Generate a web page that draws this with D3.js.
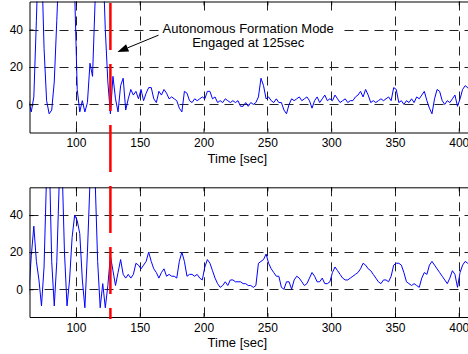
<!DOCTYPE html>
<html>
<head>
<meta charset="utf-8">
<script src="https://cdn.jsdelivr.net/npm/d3@7"></script>
<style>
body { margin: 0; background: #fff; }
text { font-family: "Liberation Sans", Arial, Helvetica, sans-serif; }
</style>
</head>
<body>
<div id="the_chart"></div>
<script>
// samples every 2 sec starting at 63 sec
var startTime = 63, timeStep = 2;

var topValues = [
    2, -4, 4, 45, 90, 80, 30, 2, -5, -3,
    12, 45, 80, 100, 110, 105, 100, 90, 60, 8,
    -4, 2, -4, 1, 22, 15, 55, 90, 100, 80,
    40, 12, -5, 15, 3, -4, 10, 14, -3, 3,
    8, 5, 7, 3, 8, 2, 6, 9, 9, 3,
    1, 7, 5, 8, 6, 3, 4, 3, 2, -2,
    -4, 7, 6, 2, 1, 3, 2, 3, 4, 3,
    7, 7, 3, 4, 1, 2, 1, 3, 2, 1,
    2, 1, 2, -1, -1, 1, -1, 1, 0, 1,
    4, 14, 10, 3, 4, 2, 1, 3, 1, 1,
    -3, -5, 0, 3, 2, 3, 4, 2, 3, 4,
    2, -2, 2, 4, 1, 3, 5, 2, 3, 2,
    5, 3, 1, 2, 3, 1, 2, 2, 4, 5,
    7, 4, 8, 5, 1, 2, 1, 2, 3, 2,
    3, 4, 2, 9, 8, 1, 2, 0, 2, 1,
    3, 1, 4, 3, 5, 7, 2, -2, -5, 3,
    8, 7, 2, 0, 2, 1, 3, 5, -1, 3,
    8, 10, 9, 7, 6
];

var bottomValues = [
    -3, 18, 34, 15, 5, -9, 12, 62, 75, 15,
    -9, 15, 60, 70, 20, -9, 5, 28, 40, 37,
    30, 5, -10, 20, 58, 70, 60, 15, -10, 3,
    -10, 2, 18, 10, 2, 9, 16, 8, 6, 8,
    6, 8, 14, 13, 11, 13, 15, 20, 15, 11,
    9, 6, 9, 11, 7, 8, 7, 7, 6, 15,
    20, 15, 7, 8, 8, 7, 8, 6, 5, 12,
    16, 14, 10, 6, 3, 1, 2, 4, 2, 5,
    5, 4, 4, 4, 3, 3, 2, 2, 1, 2,
    14, 15, 16, 19, 14, 11, 9, 7, 7, 1,
    0, 4, 4, 0, 5, 7, 6, 4, 2, 3,
    6, 9, 7, 4, 4, 6, 3, 3, 4, 9,
    12, 10, 8, 6, 5, 5, 6, 7, 8, 9,
    11, 14, 13, 11, 10, 8, 6, 4, 3, 5,
    5, 4, 7, 13, 14, 14, 13, 9, 4, 3,
    2, 3, 2, 1, 6, 9, 8, 13, 15, 13,
    11, 9, 7, 5, 3, 6, 10, 8, 1, 9,
    13, 15, 14, 13, 12
];

var xTicks = [100, 150, 200, 250, 300, 350, 400];
var yTicks = [0, 20, 40];
var xLabel = "Time [sec]";
var engageTime = 127;
var noteLines = ["Autonomous Formation Mode", "Engaged at 125sec"];

var w = 468, h = 354;

var svg = d3.select("#the_chart").append("svg")
    .attr("width", w)
    .attr("height", h);

var xscale = d3.scaleLinear()
    .domain([63.6, 420])
    .range([29.5, 484.3]);

function panel(values, yTop, yBottom, name) {
    var yscale = d3.scaleLinear()
        .domain([-15, 55])
        .range([yBottom, yTop]);

    var g = svg.append("g");

    g.append("clipPath").attr("id", "clip_" + name)
        .append("rect")
        .attr("x", xscale.range()[0])
        .attr("y", yTop)
        .attr("width", xscale.range()[1] - xscale.range()[0])
        .attr("height", yBottom - yTop);

    // dashed grid
    g.selectAll(".vgrid").data(xTicks).enter().append("line")
        .attr("x1", function (d) { return Math.round(xscale(d)) + 0.5; })
        .attr("x2", function (d) { return Math.round(xscale(d)) + 0.5; })
        .attr("y1", yTop).attr("y2", yBottom)
        .attr("stroke", "#222").attr("stroke-dasharray", "9,6");

    g.selectAll(".hgrid").data(yTicks).enter().append("line")
        .attr("x1", xscale.range()[0]).attr("x2", xscale.range()[1])
        .attr("y1", function (d) { return Math.round(yscale(d)) + 0.5; })
        .attr("y2", function (d) { return Math.round(yscale(d)) + 0.5; })
        .attr("stroke", "#222").attr("stroke-dasharray", "9,6");

    var line = d3.line()
        .x(function (d, i) { return xscale(startTime + i * timeStep); })
        .y(function (d) { return yscale(d); });

    g.append("path")
        .datum(values)
        .attr("clip-path", "url(#clip_" + name + ")")
        .attr("d", line)
        .attr("fill", "none")
        .attr("stroke", "#0000ff")
        .attr("stroke-width", 1);

    var xaxis = d3.axisBottom(xscale)
        .tickValues(xTicks).tickSize(-4).tickSizeOuter(0).tickPadding(6);
    var topaxis = d3.axisTop(xscale)
        .tickValues(xTicks).tickSize(-4).tickSizeOuter(0).tickFormat("");
    var yaxis = d3.axisLeft(yscale)
        .tickValues(yTicks).tickSize(-4).tickSizeOuter(0).tickPadding(6.5);

    g.append("g").attr("transform", "translate(0," + yBottom + ")").call(xaxis);
    g.append("g").attr("transform", "translate(0," + yTop + ")").call(topaxis);
    g.append("g").attr("transform", "translate(" + xscale.range()[0] + ",0)").call(yaxis);

    g.selectAll(".domain").attr("stroke", "#000");
    g.selectAll(".tick line").attr("stroke", "#000");
    g.selectAll(".tick text").style("font-size", "12px").attr("fill", "#000")
        .style("font-family", "'Liberation Sans', Arial, sans-serif");

    g.append("text")
        .attr("x", xscale(250) - 30)
        .attr("y", yBottom + 30)
        .attr("text-anchor", "middle")
        .style("font-size", "13px")
        .text(xLabel);

    return yscale;
}

var yTopScale = panel(topValues, 1.5, 132.5, "a");
var yBotScale = panel(bottomValues, 187.3, 317, "b");

// engage marker, one long dashed red line across both panels
svg.append("line")
    .attr("x1", xscale(engageTime)).attr("x2", xscale(engageTime))
    .attr("y1", 0).attr("y2", yBotScale(-15) + 2)
    .attr("stroke", "#ff0000")
    .attr("stroke-width", 2.5)
    .attr("stroke-dasharray", "47,14")
    .attr("stroke-dashoffset", 58);

// annotation with arrow
svg.append("rect")
    .attr("x", xscale(165.4)).attr("y", yTopScale(47.8))
    .attr("width", xscale(306.5) - xscale(165.4))
    .attr("height", yTopScale(25.3) - yTopScale(47.8))
    .attr("fill", "#fff");

svg.selectAll(".note").data(noteLines).enter().append("text")
    .attr("x", xscale(235))
    .attr("y", function (d, i) { return yTopScale(38.2) + i * 14.5; })
    .attr("text-anchor", "middle")
    .style("font-size", "13px")
    .text(function (d) { return d; });

var tail = [xscale(164.7), yTopScale(37)];
var tip = [xscale(132.5), yTopScale(28)];
var ang = Math.atan2(tip[1] - tail[1], tip[0] - tail[0]);
var headLen = 11, headW = 4;
var base = [tip[0] - headLen * Math.cos(ang), tip[1] - headLen * Math.sin(ang)];

svg.append("line")
    .attr("x1", tail[0]).attr("y1", tail[1])
    .attr("x2", base[0]).attr("y2", base[1])
    .attr("stroke", "#000").attr("stroke-width", 1);

svg.append("path")
    .attr("d", "M" + tip[0] + "," + tip[1] +
        "L" + (base[0] + headW * Math.sin(ang)) + "," + (base[1] - headW * Math.cos(ang)) +
        "L" + (base[0] - headW * Math.sin(ang)) + "," + (base[1] + headW * Math.cos(ang)) + "Z")
    .attr("fill", "#000");
</script>
</body>
</html>
